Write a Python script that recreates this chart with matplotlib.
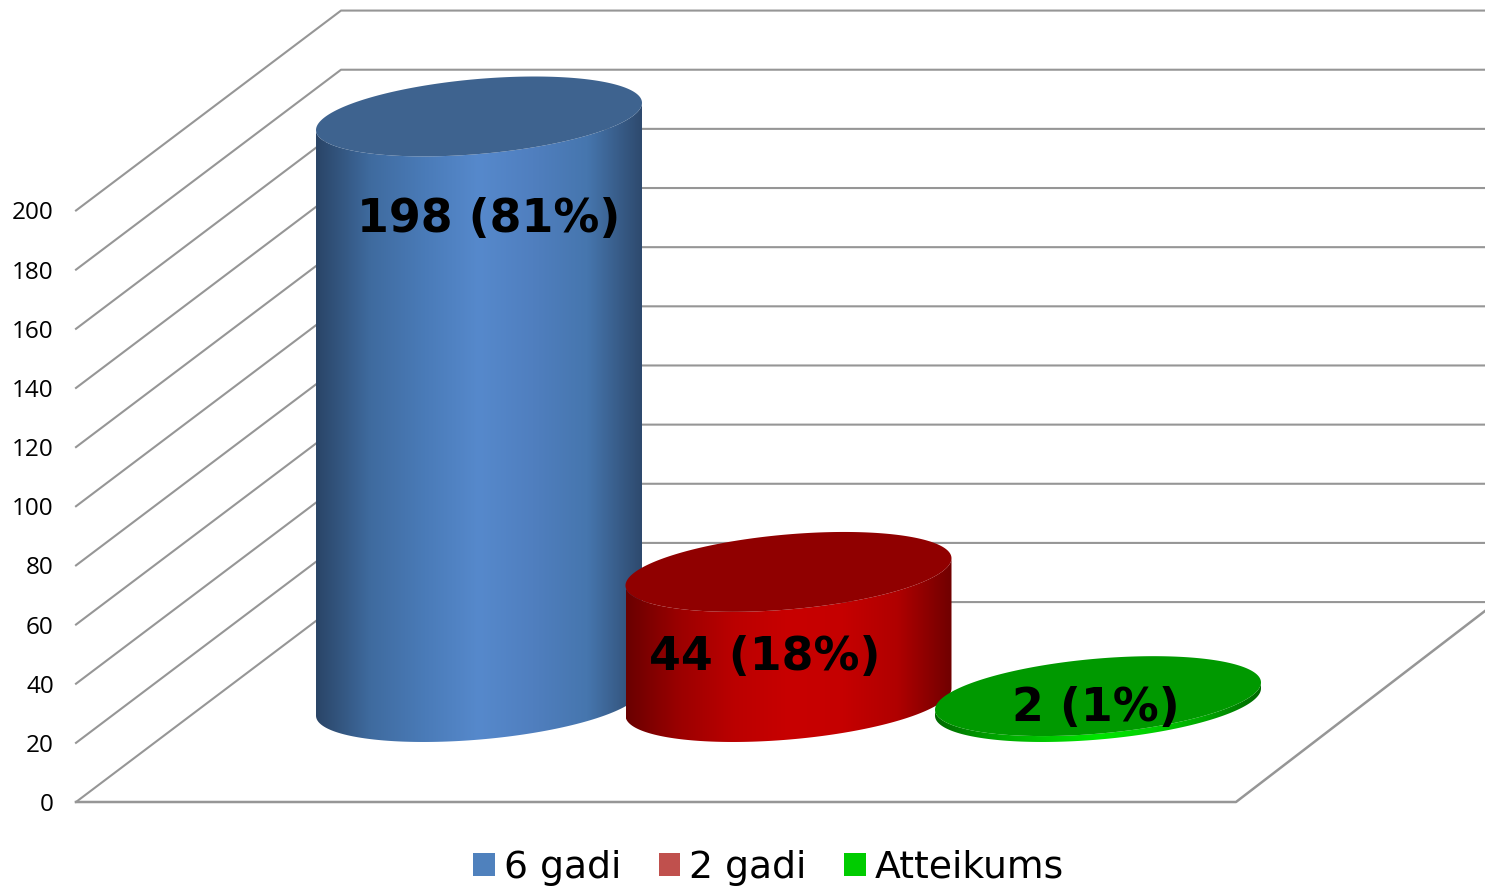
import numpy as np
import matplotlib
matplotlib.use("Agg")
import matplotlib.pyplot as plt
from matplotlib.colors import LinearSegmentedColormap
from matplotlib.patches import Patch, Polygon

series = ["6 gadi", "2 gadi", "Atteikums"]
values = [198, 44, 2]
bar_labels = ["198 (81%)", "44 (18%)", "2 (1%)"]
yticks = [0, 20, 40, 60, 80, 100, 120, 140, 160, 180, 200]

# colours for each cylinder: side gradient, lid, legend box
side_colors = [
    ["#2a4567", "#3f6b9f", "#4a7bb8", "#5689cc", "#507fbf", "#4676ae", "#2e4a6e"],
    ["#6a0000", "#9c0000", "#bb0000", "#c80000", "#c50000", "#b00000", "#700000"],
    ["#006a00", "#00a000", "#00c800", "#00e600", "#00d000", "#00a500", "#006800"],
]
lid_colors = ["#3e638f", "#900000", "#009900"]
legend_colors = ["#4f81bd", "#c0504d", "#00cc00"]
grid_color = "#969696"

# chart geometry, x in px, y in value units
px_per_unit = 2.9575
depth_x = 265
depth_y = 67.6
floor_right = 1236
floor_edge_rise = 64.6
centers = [479, 788.5, 1098]
radius = 163
lid_tilt = 4.6
lid_h = 12.7
label_dx = [10, -24, -2]
label_dy = [-35, -29, -4.2]

fig = plt.figure(figsize=(14.85, 8.86), dpi=100)
ax = fig.add_axes([76 / 1485, 84 / 886, 1 - 76 / 1485, 802 / 886])

# walls and floor
for v in yticks:
    ax.plot([76, 76 + depth_x, 1485], [v, v + depth_y, v + depth_y],
            color=grid_color, lw=1.5, zorder=1, clip_on=False)
ax.plot([76, floor_right, 1485], [0, 0, floor_edge_rise],
        color=grid_color, lw=1.8, zorder=1, clip_on=False)

base = depth_y / 2
t_front = np.linspace(np.pi, 2 * np.pi, 120)
t_all = np.linspace(0, 2 * np.pi, 240)


def ring(cx, cy, t):
    return cx + radius * np.cos(t), cy + lid_tilt * np.cos(t) + lid_h * np.sin(t)


for i, (cx, val) in enumerate(zip(centers, values)):
    top = base + val
    bx, by = ring(cx, base, t_front)
    tx, ty = ring(cx, top, t_front)
    outline = np.column_stack([np.r_[bx, tx[::-1]], np.r_[by, ty[::-1]]])
    clip = Polygon(outline, closed=True, transform=ax.transData, fc="none", ec="none")
    ax.add_patch(clip)
    cmap = LinearSegmentedColormap.from_list("side%d" % i, side_colors[i])
    grad = np.linspace(0, 1, 256).reshape(1, -1)
    im = ax.imshow(grad, cmap=cmap, aspect="auto", zorder=2 + i,
                   extent=[cx - radius, cx + radius, base - lid_h - lid_tilt - 2, top + lid_h],
                   interpolation="bilinear")
    im.set_clip_path(clip)
    lx, ly = ring(cx, top, t_all)
    ax.fill(lx, ly, color=lid_colors[i], lw=0, zorder=2 + i)

for cx, val, txt, dx, dy in zip(centers, values, bar_labels, label_dx, label_dy):
    ax.text(cx + dx, base + val + dy, txt, ha="center", va="center",
            fontsize=33, fontweight="bold", family="DejaVu Sans", zorder=10)

ax.set_xlim(76, 1485)
ax.set_ylim(0, 802 / px_per_unit)
ax.set_xticks([])
ax.set_yticks(yticks)
ax.set_yticklabels([str(v) for v in yticks], fontsize=17.5, family="Open Sans", color="black")
ax.tick_params(axis="y", length=0, pad=16)
for s in ax.spines.values():
    s.set_visible(False)
ax.patch.set_alpha(0)

handles = [Patch(fc=c, ec="none") for c in legend_colors]
fig.legend(handles, series, loc="center", bbox_to_anchor=(768.5 / 1485, 1 - 868 / 886),
           ncol=3, frameon=False, handlelength=0.57, handleheight=0.57,
           handletextpad=0.23, columnspacing=1.0, borderpad=0, borderaxespad=0,
           prop={"family": "DejaVu Sans", "size": 27.2})

fig.savefig("out.png", dpi=100)
